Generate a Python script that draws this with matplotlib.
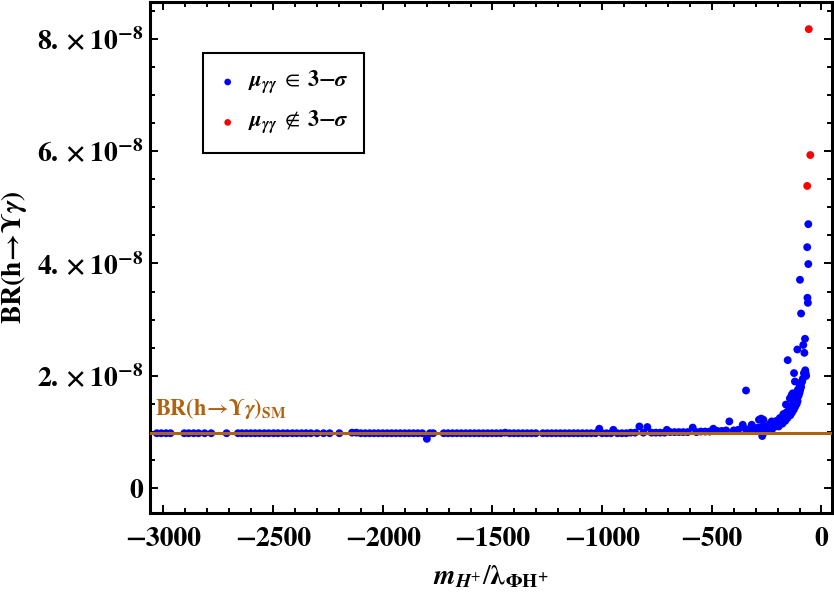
import matplotlib
matplotlib.use('Agg')
import matplotlib.pyplot as plt
from matplotlib.ticker import MultipleLocator, FixedLocator

plt.rcParams['mathtext.fontset'] = 'stix'
plt.rcParams['font.family'] = ['STIXGeneral', 'DejaVu Serif']

# scan points inside 3-sigma (x = m_H+/lambda, y in units of 1e-8)
flat_x = [-3030, -3010, -2988, -2968, -2905, -2885, -2862, -2840, -2812, -2782,
          -2712, -2660, -2642, -2622, -2602, -2582, -2562, -2540, -2520, -2498,
          -2478, -2455, -2435, -2412, -2392, -2370, -2350, -2328, -2300, -2270,
          -2242, -2198, -2140, -2120, -2100, -2080, -2060, -2040, -2020, -2000,
          -1980, -1960, -1940, -1920, -1900, -1880, -1860, -1840, -1820, -1799,
          -1785, -1770, -1722, -1702, -1682, -1662, -1642, -1622, -1602, -1582,
          -1562, -1542, -1522, -1502, -1482, -1462, -1442, -1422, -1402, -1382,
          -1362, -1342, -1322, -1302, -1270, -1250, -1230, -1210, -1190, -1170,
          -1150, -1130, -1110, -1090, -1070, -1050, -1030, -1013, -1000, -980,
          -960, -949, -930, -910, -890, -870, -850, -830, -812, -794,
          -775, -755, -735, -715, -705, -690, -670, -650, -630, -610,
          -587, -570, -550, -530, -510, -493, -475, -455, -435, -420]
flat_y = [0.98, 0.98, 0.98, 0.98, 0.98, 0.98, 0.98, 0.98, 0.98, 0.98,
          0.98, 0.98, 0.98, 0.98, 0.98, 0.98, 0.98, 0.98, 0.98, 0.98,
          0.98, 0.98, 0.98, 0.98, 0.98, 0.98, 0.98, 0.98, 0.98, 0.98,
          0.98, 0.98, 0.99, 0.99, 0.98, 0.98, 0.98, 0.98, 0.98, 0.98,
          0.98, 0.98, 0.98, 0.98, 0.98, 0.98, 0.98, 0.98, 0.98, 0.88,
          0.98, 0.98, 0.98, 0.98, 0.98, 0.98, 0.98, 0.98, 0.98, 0.98,
          0.98, 0.98, 0.98, 0.98, 0.98, 0.98, 0.99, 0.98, 0.98, 0.98,
          0.98, 0.98, 0.98, 0.98, 0.98, 0.98, 0.98, 0.98, 0.98, 0.98,
          0.98, 0.98, 0.98, 0.98, 0.98, 0.98, 0.98, 1.06, 0.98, 0.98,
          0.98, 1.04, 0.98, 0.98, 0.98, 0.99, 0.99, 1.10, 0.99, 1.09,
          0.99, 0.99, 0.99, 0.99, 1.04, 1.00, 1.00, 1.00, 1.00, 1.00,
          1.08, 1.00, 1.01, 1.01, 1.01, 1.06, 1.02, 1.02, 1.03, 1.19]

rise_x = [-400, -380, -359, -345, -344, -330, -318, -305, -290, -285,
          -275, -270, -265, -260, -250, -320, -300, -280, -260, -240,
          -225, -270, -250, -230, -210, -195, -235, -215, -195, -178,
          -205, -185, -165, -190, -172, -155, -170, -155, -142, -160,
          -145, -134, -148, -136, -126, -138, -128, -120, -130, -120,
          -113, -125, -115, -109, -120, -110, -118, -104, -112, -100,
          -108, -97, -100, -93, -95, -90, -162, -154, -144, -136,
          -131, -125, -121, -110, -98, -93, -83, -78, -75, -74,
          -72, -70, -65, -64, -62, -60, -60, -227, -174, -88,
          -85, -80]
rise_y = [1.03, 1.04, 1.13, 1.05, 1.74, 1.05, 1.13, 1.06, 1.08, 1.22,
          1.24, 0.93, 1.22, 1.00, 1.02, 1.05, 1.05, 1.05, 1.05, 1.05,
          1.05, 1.10, 1.10, 1.10, 1.10, 1.10, 1.15, 1.15, 1.15, 1.15,
          1.20, 1.20, 1.20, 1.25, 1.25, 1.25, 1.30, 1.30, 1.30, 1.35,
          1.35, 1.35, 1.40, 1.40, 1.40, 1.45, 1.45, 1.45, 1.50, 1.50,
          1.50, 1.55, 1.55, 1.55, 1.60, 1.60, 1.65, 1.65, 1.70, 1.70,
          1.75, 1.75, 1.80, 1.80, 1.85, 1.90, 1.49, 2.28, 1.60, 1.66,
          1.69, 2.05, 1.90, 2.47, 3.71, 3.11, 2.55, 2.41, 2.66, 2.10,
          2.05, 2.00, 4.29, 3.39, 3.30, 4.70, 3.99, 1.19, 1.32, 1.90,
          1.95, 2.05]

# points outside 3-sigma
out_x = [-58, -51, -65]
out_y = [8.17, 5.93, 5.38]

br_sm = 0.977  # SM value, 1e-8

x_major = [-3000, -2500, -2000, -1500, -1000, -500, 0]
x_labels = ['\u22123000', '\u22122500', '\u22122000', '\u22121500', '\u22121000', '\u2212500', '0']
y_major = [0, 2, 4, 6, 8]
y_labels = ['0', r'$\mathbf{2.\times10^{-8}}$', r'$\mathbf{4.\times10^{-8}}$',
            r'$\mathbf{6.\times10^{-8}}$', r'$\mathbf{8.\times10^{-8}}$']

blue = '#0000ff'
red = '#ff0000'
brown = '#b0620f'
msize = 32

fig = plt.figure(figsize=(8.34, 5.93), dpi=100)
ax = fig.add_axes([0.1799, 0.1344, 0.8177, 0.8614])

ax.scatter(flat_x, flat_y, s=msize, color=blue, edgecolors='none', zorder=3,
           label=r'$\mathbfit{\mu}_{\mathbfit{\gamma\gamma}}\;\in\;\mathbf{3{-}}\mathbfit{\sigma}$')
ax.scatter(rise_x, rise_y, s=msize, color=blue, edgecolors='none', zorder=3)
ax.scatter(out_x, out_y, s=msize, color=red, edgecolors='none', zorder=3,
           label=r'$\mathbfit{\mu}_{\mathbfit{\gamma\gamma}}\;\notin\;\mathbf{3{-}}\mathbfit{\sigma}$')
ax.axhline(br_sm, color=brown, lw=2.2, zorder=4)
ax.text(-3040, br_sm + 0.22,
        r'$\mathbf{BR(h}\!\mathbf{\rightarrow}\!\mathbf{\Upsilon}\mathbfit{\gamma}\mathbf{)_{SM}}$',
        color=brown, fontsize=16, ha='left', va='bottom')

ax.set_xlim(-3061, 48)
ax.set_ylim(-0.445, 8.644)
ax.xaxis.set_major_locator(FixedLocator(x_major))
ax.set_xticklabels(x_labels)
ax.xaxis.set_minor_locator(MultipleLocator(100))
ax.yaxis.set_major_locator(FixedLocator(y_major))
ax.set_yticklabels(y_labels)
ax.yaxis.set_minor_locator(MultipleLocator(0.5))

ax.tick_params(which='both', direction='in', top=True, right=True, width=1.4)
ax.tick_params(which='major', length=6)
ax.tick_params(which='minor', length=3.5)
ax.tick_params(axis='x', pad=10, labelsize=20)
ax.tick_params(axis='y', pad=5, labelsize=20)
for lab in ax.get_xticklabels() + ax.get_yticklabels():
    lab.set_fontweight('bold')
for sp in ax.spines.values():
    sp.set_linewidth(2.2)

ax.set_xlabel(r'$\mathbfit{m}_{\mathbfit{H}^{+}}/\mathbf{\lambda}_{\mathbf{\Phi H^{+}}}$', fontsize=20, labelpad=8)
ax.set_ylabel(r'$\mathbf{BR(h}\!\mathbf{\rightarrow}\!\mathbf{\Upsilon}\mathbfit{\gamma}\mathbf{)}$',
              fontsize=20, labelpad=6)

leg = ax.legend(loc='upper left', bbox_to_anchor=(0.078, 0.901), borderaxespad=0,
                fontsize=16, fancybox=False, edgecolor='black', framealpha=1,
                handlelength=0.8, handletextpad=0.5, labelspacing=0.55,
                borderpad=0.7, markerscale=0.85)
leg.get_frame().set_linewidth(1.5)

fig.savefig('out.png', dpi=100)
